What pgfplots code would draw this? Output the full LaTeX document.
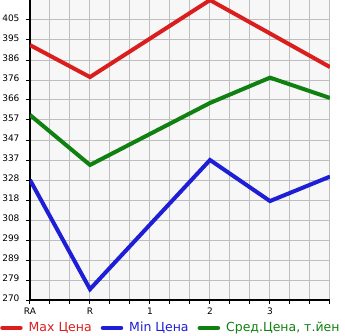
\documentclass[border=0pt]{standalone}
\usepackage{fontspec}
\setmainfont{DejaVu Sans}
\usepackage{pgfplots}
\pgfplotsset{compat=1.18}
\definecolor{cred}{RGB}{218,30,30}
\definecolor{cblue}{RGB}{30,30,214}
\definecolor{cgreen}{RGB}{16,128,16}
\definecolor{cgrid}{RGB}{190,190,190}
\definecolor{cbg}{RGB}{247,247,247}
\begin{document}
\begin{tikzpicture}[x=1pt,y=1pt]
\useasboundingbox (-30,-35) rectangle (315,300);
\begin{axis}[
  at={(0,0)}, anchor=south west,
  scale only axis, width=300pt, height=300pt,
  xmin=0, xmax=5, ymin=270, ymax=414.643,
  axis x line*=bottom, axis y line*=left,
  axis line style={-, line width=2.5pt, black},
  axis background/.style={fill=cbg},
  xtick={0,1,2,3,4,5}, xticklabels={RA,R,1,2,3,},
  minor x tick num=2,
  ytick={270,279.643,289.286,298.929,308.571,318.214,327.857,337.5,347.143,356.786,366.429,376.071,385.714,395.357,405},
  yticklabels={270,279,289,299,308,318,328,337,347,357,366,376,386,395,405},
  grid=both,
  grid style={cgrid, line width=1pt},
  minor grid style={cgrid, line width=1pt},
  tick align=outside,
  major tick length=4pt, minor tick length=4pt,
  tick style={black, line width=1pt},
  /pgf/number format/assume math mode=true,
  tick label style={font=\fontsize{9}{10}\selectfont, text=black},
  yticklabel style={xshift=-3pt, yshift=2pt},
  xticklabel style={yshift=0pt},
  legend columns=3,
  legend style={at={(-0.1,-0.093)}, anchor=west, draw=none, fill=none, inner sep=0pt,
    font=\fontsize{12.5}{14}\selectfont, /tikz/every even column/.append style={column sep=7pt},
    /tikz/every odd column/.append style={column sep=4pt}},
  legend image code/.code={\draw[line width=4.5pt, line cap=round, #1] (2pt,0pt) -- (20pt,0pt);},
]
\addplot[cred, line width=4pt] coordinates {(0,392.9) (1,377.5) (3,414.6) (4,398.5) (5,382.3)};
\addlegendentry{\textcolor{cred}{Max Цена}}
\addplot[cblue, line width=4pt] coordinates {(0,327.9) (1,275.2) (3,337.5) (4,317.7) (5,329.5)};
\addlegendentry{\textcolor{cblue}{Min Цена}}
\addplot[cgreen, line width=4pt] coordinates {(0,359.2) (1,335.1) (3,365.0) (4,377.2) (5,367.4)};
\addlegendentry{\textcolor{cgreen}{Сред.Цена, т.йен}}
\end{axis}
\end{tikzpicture}
\end{document}
